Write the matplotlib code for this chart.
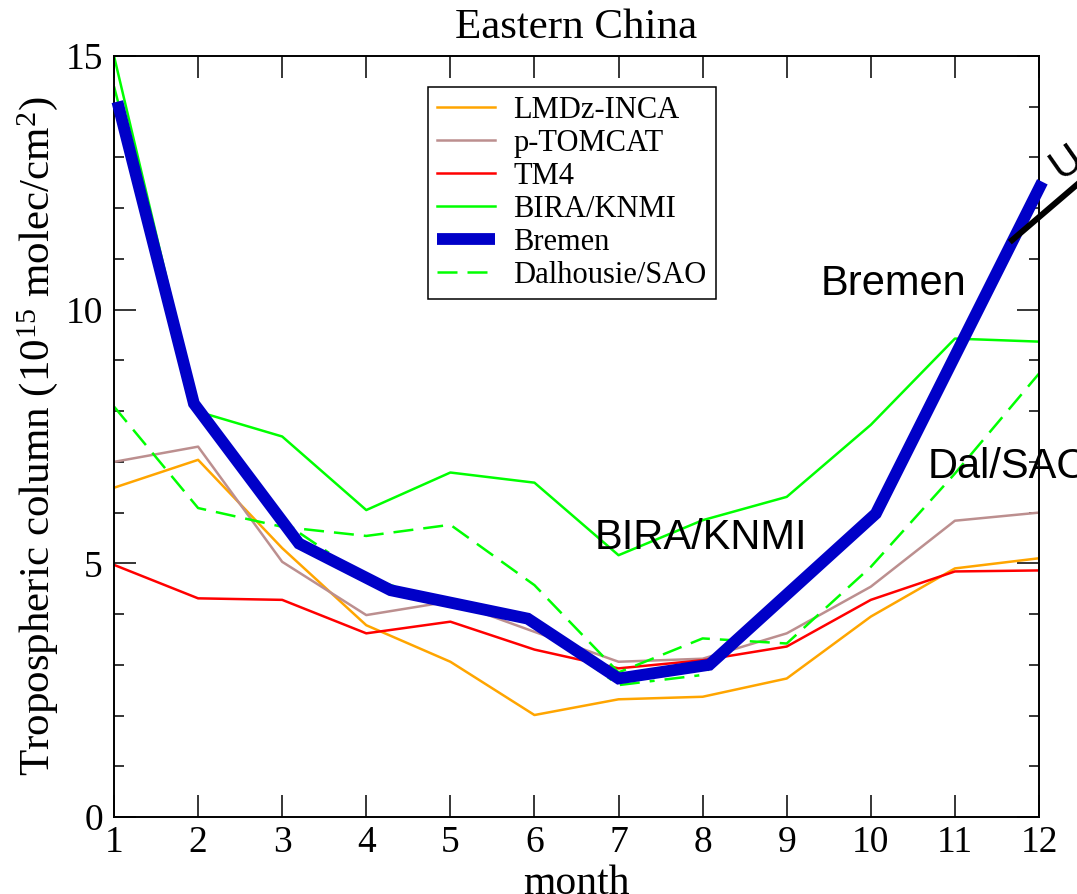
import matplotlib
matplotlib.use("Agg")
import matplotlib.pyplot as plt
from matplotlib import font_manager
from matplotlib.ticker import MultipleLocator

# monthly tropospheric columns, Eastern China (1e15 molec/cm2)
months = [1, 2, 3, 4, 5, 6, 7, 8, 9, 10, 11, 12]
lmdz = [6.49, 7.04, 5.3, 3.78, 3.06, 2.01, 2.32, 2.37, 2.73, 3.95, 4.90, 5.10]
ptomcat = [7.0, 7.3, 5.03, 3.98, 4.25, 3.65, 3.06, 3.12, 3.62, 4.54, 5.84, 6.0]
tm4 = [4.97, 4.31, 4.28, 3.62, 3.85, 3.30, 2.93, 3.09, 3.36, 4.28, 4.84, 4.86]
bira = [15.0, 7.99, 7.5, 6.05, 6.79, 6.59, 5.16, 5.85, 6.31, 7.73, 9.43, 9.37]
dal = [8.09, 6.09, 5.72, 5.54, 5.76, 4.57, 2.85, 3.52, 3.42, 4.93, 6.77, 8.74]
# thin dashed curve mostly hidden below the Bremen overlay
under = [14.4, 8.04, 5.83, 4.71, 4.23, 3.82, 2.6, 2.8, 4.38, 5.8, 9.08, 12.39]

# hand drawn Bremen overlay (vertices)
bremen_month = [1.04, 1.95, 3.2, 4.29, 5.92, 7.0, 8.08, 10.06, 12.04]
bremen_val = [14.1, 8.15, 5.39, 4.47, 3.91, 2.73, 3.0, 5.98, 12.52]

callout_x = [11.68, 12.9]
callout_y = [11.37, 13.1]

plt.rcParams['font.family'] = 'Liberation Serif'
plt.rcParams['mathtext.fontset'] = 'custom'
plt.rcParams['mathtext.rm'] = 'Liberation Serif'
plt.rcParams['mathtext.it'] = 'Liberation Serif:italic'
plt.rcParams['mathtext.bf'] = 'Liberation Serif:bold'

names = [f.name for f in font_manager.fontManager.ttflist]
if 'Liberation Sans Narrow' in names:
    afam, asize = 'Liberation Sans Narrow', 33
else:
    afam, asize = 'Liberation Sans', 30

fig = plt.figure(figsize=(10.77, 8.94), dpi=100)
ax = fig.add_axes([114/1077, 1-817/894, (1039-114)/1077, (817-56)/894])

thin = 1.8
ax.plot(months, lmdz, color='#ffa500', lw=thin, label='LMDz-INCA')
ax.plot(months, ptomcat, color='#bc8f8f', lw=thin, label='p-TOMCAT')
ax.plot(months, tm4, color='#ff0000', lw=thin, label='TM4')
ax.plot(months, bira, color='#00ff00', lw=thin, label='BIRA/KNMI')
ax.plot(months, under, color='#00ff00', lw=thin, dashes=(8, 4, 2, 4))
ax.plot([], [], color='#0000c8', lw=8.5, solid_capstyle='butt', label='Bremen')
ax.plot(months, dal, color='#00ff00', lw=thin, dashes=(8, 4), label='Dalhousie/SAO')
ax.plot(bremen_month, bremen_val, color='#0000c8', lw=8.5,
        solid_capstyle='butt', solid_joinstyle='miter', clip_on=False, zorder=5)

ax.plot(callout_x, callout_y, color='black', lw=4.3, clip_on=False, zorder=6)
ax.text(12.33, 12.91, 'U', family=afam, fontsize=asize, rotation=35,
        ha='center', va='center', clip_on=False)

ax.text(9.40, 10.29, 'Bremen', family=afam, fontsize=asize, ha='left', va='baseline')
ax.text(6.71, 5.29, 'BIRA/KNMI', family=afam, fontsize=asize, ha='left', va='baseline', zorder=7)
ax.text(10.67, 6.68, 'Dal/SAO', family=afam, fontsize=asize, ha='left', va='baseline',
        clip_on=False, zorder=7)

ax.set_xlim(1, 12)
ax.set_ylim(0, 15)
ax.xaxis.set_major_locator(MultipleLocator(1))
ax.yaxis.set_major_locator(MultipleLocator(5))
ax.yaxis.set_minor_locator(MultipleLocator(1))
ax.tick_params(which='both', direction='in', top=True, right=True, width=1.1, colors='black')
ax.tick_params(which='major', length=16)
ax.tick_params(which='minor', length=7)
ax.tick_params(axis='x', labelsize=27, pad=6)
ax.tick_params(axis='y', labelsize=27, pad=8)
for s in ax.spines.values():
    s.set_linewidth(1.4)

ax.set_title('Eastern China', fontsize=31, pad=13)
ax.set_xlabel('month', fontsize=30, labelpad=3)
ax.set_ylabel(r'Tropospheric column (10$^{15}$ molec/cm$^{2}$)', fontsize=31, labelpad=4)

leg = ax.legend(loc='upper left', bbox_to_anchor=(428/1077, 1-87/894),
                bbox_transform=fig.transFigure, borderaxespad=0, fontsize=22,
                handlelength=1.9, handletextpad=0.6, borderpad=0.3, labelspacing=0.13,
                fancybox=False, framealpha=1, edgecolor='black')
leg.get_frame().set_linewidth(1.1)

fig.savefig('out.png', dpi=100)
